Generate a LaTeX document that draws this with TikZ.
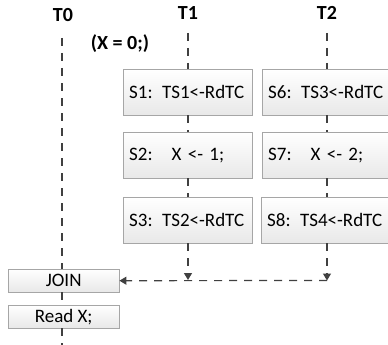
\documentclass[tikz,border=0pt]{standalone}
\usepackage{fontspec}
\setmainfont{Carlito}
\usetikzlibrary{arrows.meta,shadows}
\begin{document}
\begin{tikzpicture}[x=1pt,y=-1pt,
  sbox/.style={draw=black!35, top color=white, bottom color=black!9,
    drop shadow={opacity=0.2, shadow xshift=1pt, shadow yshift=-1pt},
    anchor=north west, inner xsep=6pt, inner ysep=0pt, text width=117pt,
    minimum height=46pt, align=left, font=\fontsize{19}{22}\selectfont},
  jbox/.style={draw=black!35, top color=white, bottom color=black!9,
    drop shadow={opacity=0.2, shadow xshift=1pt, shadow yshift=-1pt},
    anchor=north west, inner sep=0pt, minimum width=111pt,
    minimum height=23pt, font=\fontsize{19}{22}\selectfont},
  lbl/.style={font=\bfseries\fontsize{20}{22}\selectfont},
  life/.style={draw=black!75, line width=1.2pt, dash pattern=on 8pt off 7pt},
  arr/.style={life, -{Triangle[width=8pt,length=7pt]}}
]
\useasboundingbox (0,0) rectangle (388,345);

\node[lbl] (T0) at (63,15) {T0};
\node[lbl] (T1) at (188,13) {T1};
\node[lbl] (T2) at (327,13) {T2};
\node[lbl] (X0) at (120,44) {(X = 0;)};

\node[sbox] (S1) at (123,69) {S1: TS1<-RdTC};
\node[sbox] (S2) at (123,132) {S2:\hspace{1em}X <- 1;};
\node[sbox] (S3) at (123,197) {S3: TS2<-RdTC};
\node[sbox] (S6) at (262,69) {S6: TS3<-RdTC};
\node[sbox] (S7) at (262,132) {S7:\hspace{1em}X <- 2;};
\node[sbox] (S8) at (261,197) {S8: TS4<-RdTC};

\node[jbox] (JOIN) at (8,269) {JOIN};
\node[jbox] (READ) at (8,305) {Read X;};

\coordinate (T0top) at (62,38);
\coordinate (T1top) at (188,33);
\coordinate (T2top) at (327,33);
\coordinate (a1) at (188,280);
\coordinate (a2) at (327,280.5);
\coordinate (bot) at (62,345);

\draw[life] (T0top) -- (JOIN.north -| T0top);
\draw[life] (JOIN.south -| T0top) -- (READ.north -| T0top);
\draw[life] (READ.south -| T0top) -- (bot);

\draw[life] (T1top) -- (S1.north -| T1top);
\draw[life] (S1.south -| T1top) -- (S2.north -| T1top);
\draw[life] (S2.south -| T1top) -- (S3.north -| T1top);
\draw[arr] (S3.south -| T1top) -- (a1);

\draw[life] (T2top) -- (S6.north -| T2top);
\draw[life] (S6.south -| T2top) -- (S7.north -| T2top);
\draw[life] (S7.south -| T2top) -- (S8.north -| T2top);
\draw[arr] (S8.south -| T2top) -- (a2);

\draw[arr] (a2) -- (JOIN.east);
\end{tikzpicture}
\end{document}
